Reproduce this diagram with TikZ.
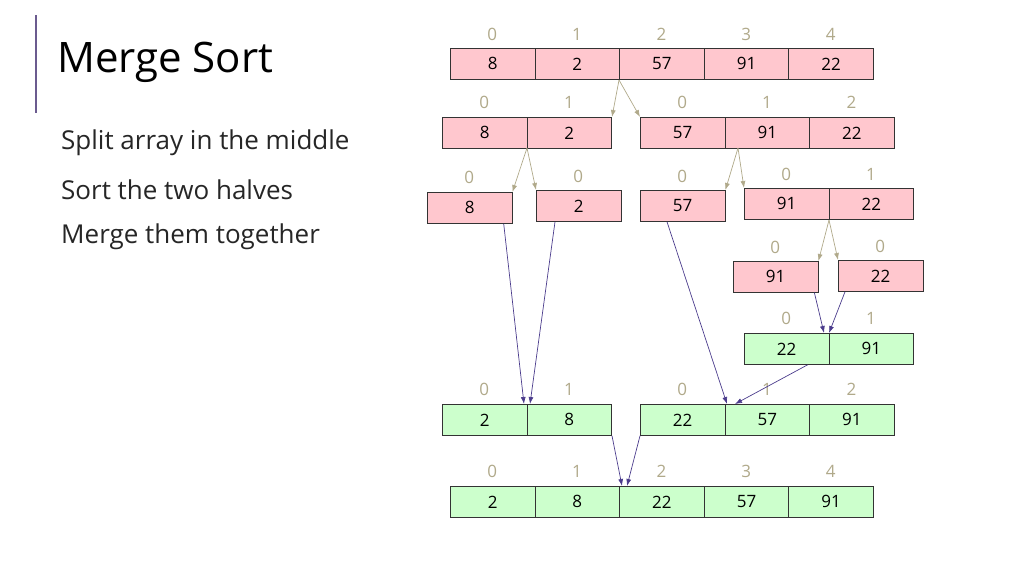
\documentclass[tikz,border=0pt]{standalone}
\usepackage{fontspec}
\setmainfont{Open Sans}
\usetikzlibrary{arrows.meta}
\definecolor{pinkc}{HTML}{FFC7CE}
\definecolor{greenc}{HTML}{CCFFCC}
\definecolor{idxc}{HTML}{B0A98A}
\definecolor{splitc}{HTML}{B0A98A}
\definecolor{mergec}{HTML}{4B3C8C}
\definecolor{barc}{HTML}{6B5B8F}
\tikzset{
 cell/.style={draw=black!80,line width=0.8pt,minimum width=84.6pt,minimum height=31pt,inner sep=0pt,font=\fontsize{17}{17}\selectfont,anchor=north west},
 pk/.style={cell,fill=pinkc},
 gr/.style={cell,fill=greenc},
 idx/.style={text=idxc,font=\fontsize{17}{17}\selectfont,inner sep=0pt},
 split/.style={draw=splitc,line width=0.7pt,-{Latex[length=7pt,width=5pt]}},
 merge/.style={draw=mergec,line width=0.7pt,-{Latex[length=7pt,width=5pt]}},
 txt/.style={anchor=west,inner sep=0pt,font=\fontsize{26}{26}\selectfont,text=black!85}
}
\newcommand{\arr}[6]{% style, name, x, y, idx y, list
 \foreach \v [count=\i from 0] in {#6} {
  \node[#1] (#2\i) at ({#3+84.6*\i},#4) {\v};
  \node[idx] at ({#3+84.6*\i+42.3},#5) {\i};
 }}
\begin{document}
\begin{tikzpicture}[x=1pt,y=-1pt]
\useasboundingbox (0,0) rectangle (1024,576);
\draw[barc,line width=1.2pt] (36,15) -- (36,113);
\node[anchor=west,inner sep=0pt,font=\fontsize{42}{42}\selectfont] (title) at (57,62) {Merge Sort};
\node[txt] (b1) at (61,143) {Split array in the middle};
\node[txt] (b2) at (61,190) {Sort the two halves};
\node[txt] (b3) at (61,237) {Merge them together};
\arr{pk}{a}{450}{48}{34}{8,2,57,91,22}
\arr{pk}{b}{442}{117}{102}{8,2}
\arr{pk}{c}{640}{117}{102}{57,91,22}
\arr{pk}{d}{427}{192}{177}{8}
\arr{pk}{e}{536}{190}{176}{2}
\arr{pk}{f}{640}{190}{176}{57}
\arr{pk}{g}{744}{188}{174}{91,22}
\arr{pk}{h}{733}{261}{247}{91}
\arr{pk}{k}{838}{260}{246}{22}
\arr{gr}{m}{744}{333}{318}{22,91}
\arr{gr}{n}{442}{404}{389}{2,8}
\arr{gr}{p}{640}{404}{389}{22,57,91}
\arr{gr}{q}{450}{486}{471}{2,8,22,57,91}
\coordinate (s1) at (619,80);
\draw[split] (s1) -- (b1.north east);
\draw[split] (s1) -- (c0.north west);
\coordinate (s2) at (527,148);
\draw[split] (s2) -- (d0.north east);
\draw[split] (s2) -- (e0.north west);
\coordinate (s3) at (738,148);
\draw[split] (s3) -- (f0.north east);
\draw[split] (s3) -- (g0.north west);
\coordinate (s4) at (829,220);
\draw[split] (s4) -- (h0.north east);
\draw[split] (s4) -- (k0.north west);
\draw[merge] (h0.south east)++(-4,0) -- (824,333);
\draw[merge] (k0.south west)++(7,0) -- (829,333);
\draw[merge] (d0.south)++(34,0) -- (524,404);
\draw[merge] (e0.south west)++(19,0) -- (530,404);
\draw[merge] (f0.south west)++(27,0) -- (727,404);
\draw[merge] (m1.south west)++(-21,0) -- (735,404);
\draw[merge] (n1.south east) -- (622,486);
\draw[merge] (p0.south west) -- (627,486);
\end{tikzpicture}
\end{document}
